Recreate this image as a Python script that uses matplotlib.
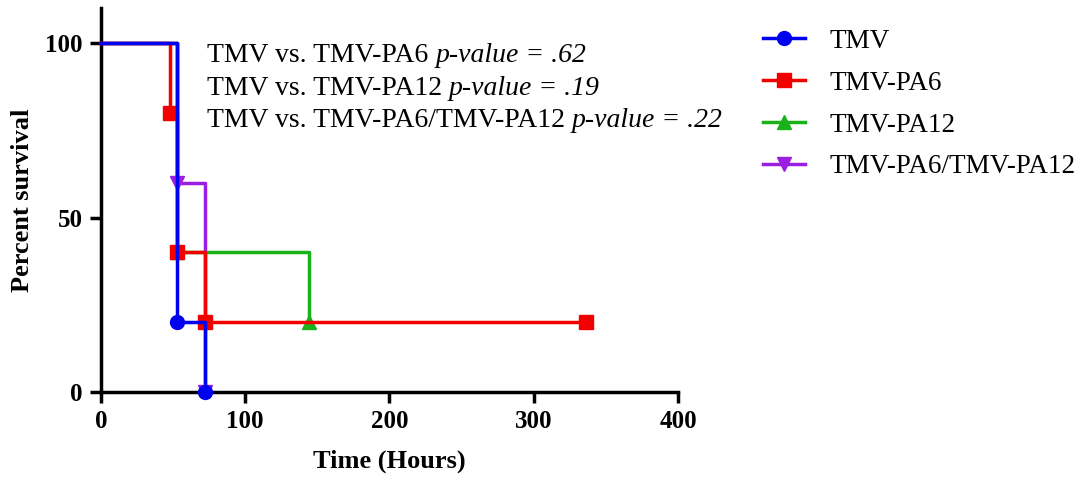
import numpy as np
import matplotlib.pyplot as plt

plt.rcParams['font.family'] = ['Liberation Serif', 'DejaVu Serif']

# Kaplan-Meier step data (time in hours, percent survival)
tmv_t = [0, 53, 72]
tmv_s = [100, 20, 0]
pa6_t = [0, 48, 53, 72, 336]
pa6_s = [100, 80, 40, 20, 20]
pa12_t = [0, 53, 144]
pa12_s = [100, 40, 20]
mix_t = [0, 53, 72]
mix_s = [100, 60, 0]

series = [
    ("TMV-PA12", pa12_t, pa12_s, "#19b319", "^", 2),
    ("TMV-PA6/TMV-PA12", mix_t, mix_s, "#9a1fe0", "v", 3),
    ("TMV-PA6", pa6_t, pa6_s, "#f20000", "s", 4),
    ("TMV", tmv_t, tmv_s, "#0000f0", "o", 5),
]
legend_order = ["TMV", "TMV-PA6", "TMV-PA12", "TMV-PA6/TMV-PA12"]

comparisons = ["TMV vs. TMV-PA6", "TMV vs. TMV-PA12", "TMV vs. TMV-PA6/TMV-PA12"]
pvalues = [".62", ".19", ".22"]

fig = plt.figure(figsize=(10.82, 4.82), dpi=100)
ax = fig.add_axes([0.0933, 0.1867, 0.5333, 0.7963])

handles = {}
for name, t, s, col, mk, z in series:
    ax.step(t, s, where='post', color=col, lw=2.5, zorder=z, clip_on=False)
    ax.plot(t[1:], s[1:], ls='none', marker=mk, color=col, ms=10, zorder=z, clip_on=False)
    h, = ax.plot([], [], color=col, lw=2.5, marker=mk, ms=10)
    handles[name] = h

ax.set_xlim(0, 400)
ax.set_ylim(0, 110)
ax.set_xticks([0, 100, 200, 300, 400])
ax.set_yticks([0, 50, 100])
for sp in ['top', 'right']:
    ax.spines[sp].set_visible(False)
for sp in ['left', 'bottom']:
    ax.spines[sp].set_linewidth(2.5)
ax.tick_params(width=2.5, length=8, labelsize=18, direction='out', pad=5)
for lab in ax.get_xticklabels() + ax.get_yticklabels():
    lab.set_fontweight('bold')
ax.set_xlabel("Time (Hours)", fontsize=19, fontweight='bold', labelpad=12)
ax.set_ylabel("Percent survival", fontsize=19, fontweight='bold', labelpad=8)

# p-value annotations: plain comparison text followed by italic p-value
for i, (lab, p) in enumerate(zip(comparisons, pvalues)):
    t1 = ax.text(73.5, 96.3 - i * 9.3, lab + " ", fontsize=20, va='center', ha='left')
    ax.annotate("p-value = " + p, xy=(1, 0.5), xycoords=t1, va='center', ha='left',
                fontsize=20, fontstyle='italic')

leg = fig.legend([handles[n] for n in legend_order], legend_order,
                 loc='upper left', bbox_to_anchor=(0.705, 0.94), frameon=False,
                 fontsize=19.5, handlelength=1.55, labelspacing=0.62, handletextpad=0.9,
                 borderpad=0, borderaxespad=0)

fig.savefig("out.png", dpi=100)
